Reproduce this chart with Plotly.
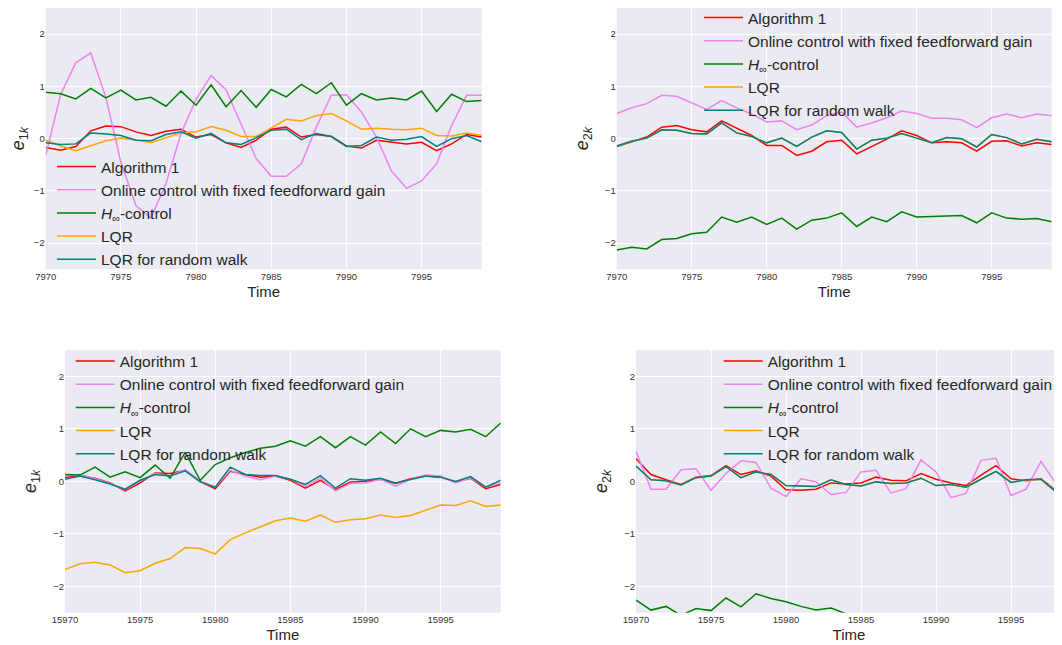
import plotly.graph_objects as go

# ---------------- data ----------------
t_top = list(range(7970, 8000))
t_bot = list(range(15970, 16000))

series_names = ["Algorithm 1", "Online control with fixed feedforward gain",
                "<i>H</i><sub>∞</sub>-control", "LQR", "LQR for random walk"]
series_colors = ["red", "violet", "green", "orange", "teal"]

# panel 1: e1k, t = 7970..7999
p1_alg = [-0.17, -0.22, -0.15, 0.15, 0.24, 0.23, 0.13, 0.06, 0.14, 0.18, 0.03, 0.08, -0.08, -0.17, -0.03,
          0.18, 0.22, 0.03, 0.08, 0.04, -0.14, -0.18, -0.03, -0.06, -0.10, -0.07, -0.23, -0.10, 0.08, 0.03]
p1_onl = [-0.32, 0.85, 1.45, 1.64, 0.79, -0.45, -1.28, -1.52, -0.86, 0.10, 0.75, 1.21, 0.93, 0.29, -0.38,
          -0.72, -0.72, -0.48, 0.22, 0.83, 0.84, 0.51, 0.03, -0.62, -0.95, -0.81, -0.48, 0.25, 0.83, 0.83]
p1_hinf = [0.89, 0.86, 0.76, 0.96, 0.78, 0.93, 0.74, 0.79, 0.62, 0.91, 0.64, 1.03, 0.61, 0.92, 0.60,
           0.94, 0.80, 1.04, 0.86, 1.07, 0.64, 0.86, 0.74, 0.78, 0.74, 0.91, 0.52, 0.85, 0.71, 0.73]
p1_lqr = [-0.03, -0.14, -0.23, -0.13, -0.04, 0.01, -0.02, -0.08, 0.01, 0.11, 0.13, 0.23, 0.16, 0.04, 0.04,
          0.20, 0.37, 0.34, 0.44, 0.48, 0.34, 0.18, 0.20, 0.18, 0.17, 0.20, 0.06, 0.05, 0.11, 0.06]
p1_rw = [-0.08, -0.11, -0.10, 0.11, 0.09, 0.06, -0.03, -0.04, 0.08, 0.13, 0.01, 0.10, -0.08, -0.11, 0.02,
         0.16, 0.18, -0.02, 0.10, 0.04, -0.15, -0.13, 0.03, -0.03, -0.01, 0.04, -0.15, 0.00, 0.06, -0.06]

# panel 2: e2k, t = 7970..7999
p2_alg = [-0.15, -0.06, 0.03, 0.22, 0.25, 0.17, 0.13, 0.34, 0.20, 0.06, -0.13, -0.13, -0.32, -0.24, -0.06,
          -0.03, -0.29, -0.15, -0.01, 0.15, 0.06, -0.08, -0.06, -0.08, -0.24, -0.05, -0.04, -0.14, -0.08, -0.11]
p2_onl = [0.48, 0.59, 0.67, 0.83, 0.81, 0.68, 0.56, 0.73, 0.59, 0.47, 0.32, 0.34, 0.17, 0.26, 0.44,
          0.51, 0.22, 0.30, 0.40, 0.53, 0.48, 0.39, 0.39, 0.36, 0.21, 0.40, 0.47, 0.40, 0.47, 0.44]
p2_hinf = [-2.13, -2.08, -2.11, -1.93, -1.91, -1.82, -1.79, -1.50, -1.60, -1.50, -1.64, -1.52, -1.73, -1.56, -1.52,
           -1.42, -1.68, -1.50, -1.59, -1.40, -1.50, -1.49, -1.47, -1.47, -1.61, -1.42, -1.52, -1.54, -1.53, -1.59]
p2_rw = [-0.14, -0.05, 0.01, 0.17, 0.16, 0.10, 0.09, 0.30, 0.11, 0.04, -0.08, 0.01, -0.15, 0.03, 0.15,
         0.12, -0.20, -0.03, 0.01, 0.10, 0.01, -0.08, 0.02, 0.00, -0.16, 0.08, 0.02, -0.10, -0.01, -0.06]
p2_lqr = list(p2_rw)  # hidden under "LQR for random walk"

# panel 3: e1k, t = 15970..15999
p3_alg = [0.08, 0.10, 0.06, -0.03, -0.18, -0.03, 0.16, 0.15, 0.21, 0.00, -0.14, 0.19, 0.13, 0.08, 0.10,
          0.02, -0.13, 0.02, -0.16, -0.01, 0.00, 0.04, -0.04, 0.05, 0.10, 0.08, -0.01, 0.06, -0.14, -0.06]
p3_onl = [0.10, 0.13, 0.05, -0.04, -0.16, 0.01, 0.15, 0.11, 0.22, 0.01, -0.11, 0.21, 0.10, 0.03, 0.10,
          0.04, -0.10, 0.06, -0.18, -0.04, -0.03, 0.04, -0.09, 0.04, 0.12, 0.10, -0.03, 0.07, -0.11, -0.03]
p3_hinf = [0.13, 0.12, 0.27, 0.08, 0.18, 0.07, 0.31, 0.06, 0.55, 0.02, 0.32, 0.45, 0.55, 0.63, 0.67,
           0.77, 0.67, 0.85, 0.64, 0.85, 0.69, 0.94, 0.72, 1.00, 0.85, 0.97, 0.94, 0.99, 0.85, 1.11]
p3_lqr = [-1.68, -1.57, -1.54, -1.59, -1.74, -1.70, -1.56, -1.47, -1.26, -1.28, -1.38, -1.11, -0.98, -0.87, -0.75,
          -0.70, -0.76, -0.64, -0.78, -0.73, -0.71, -0.64, -0.69, -0.65, -0.55, -0.45, -0.46, -0.37, -0.48, -0.45]
p3_rw = [0.04, 0.10, 0.03, -0.05, -0.15, 0.02, 0.13, 0.10, 0.20, -0.01, -0.11, 0.27, 0.13, 0.11, 0.11,
         0.04, -0.06, 0.11, -0.13, 0.05, 0.02, 0.06, -0.03, 0.04, 0.10, 0.08, 0.00, 0.09, -0.11, 0.02]

# panel 4: e2k, t = 15970..15999
p4_alg = [0.43, 0.13, 0.03, -0.06, 0.08, 0.11, 0.30, 0.13, 0.20, 0.10, -0.16, -0.17, -0.15, -0.03, -0.05,
          -0.03, 0.08, 0.02, 0.01, 0.15, 0.04, -0.03, -0.08, 0.12, 0.30, 0.05, 0.01, 0.05, -0.18, -0.14]
p4_onl = [0.57, -0.15, -0.15, 0.22, 0.24, -0.17, 0.15, 0.39, 0.36, -0.13, -0.29, 0.05, -0.01, -0.25, -0.21,
          0.18, 0.21, -0.22, -0.14, 0.41, 0.18, -0.31, -0.23, 0.40, 0.44, -0.27, -0.15, 0.38, -0.05, -0.30]
p4_hinf = [-2.26, -2.45, -2.38, -2.55, -2.42, -2.46, -2.22, -2.39, -2.14, -2.23, -2.29, -2.38, -2.45, -2.41, -2.52,
           -2.62, -2.70, -2.66, -2.75, -2.68, -2.80, -2.72, -2.85, -2.78, -2.90, -2.82, -2.88, -2.86, -2.95, -2.90]
p4_rw = [0.29, 0.03, 0.01, -0.07, 0.07, 0.10, 0.28, 0.07, 0.18, 0.13, -0.08, -0.09, -0.10, 0.03, -0.06,
         -0.09, -0.01, -0.04, -0.03, 0.06, -0.08, -0.06, -0.11, 0.04, 0.19, -0.02, 0.03, 0.04, -0.20, -0.11]
p4_lqr = list(p4_rw)  # hidden under "LQR for random walk"

y_tickvals = [-2, -1, 0, 1, 2]
y_ticktext = ["−2", "−1", "0", "1", "2"]
x_top_tickvals = [7970, 7975, 7980, 7985, 7990, 7995]
x_bot_tickvals = [15970, 15975, 15980, 15985, 15990, 15995]

panels = [
    dict(t=t_top, series=[p1_alg, p1_onl, p1_hinf, p1_lqr, p1_rw], ytitle="<i>e</i><sub>1<i>k</i></sub>",
         xt=x_top_tickvals, xr=[7970, 7999]),
    dict(t=t_top, series=[p2_alg, p2_onl, p2_hinf, p2_lqr, p2_rw], ytitle="<i>e</i><sub>2<i>k</i></sub>",
         xt=x_top_tickvals, xr=[7970, 7999]),
    dict(t=t_bot, series=[p3_alg, p3_onl, p3_hinf, p3_lqr, p3_rw], ytitle="<i>e</i><sub>1<i>k</i></sub>",
         xt=x_bot_tickvals, xr=[15970, 15999]),
    dict(t=t_bot, series=[p4_alg, p4_onl, p4_hinf, p4_lqr, p4_rw], ytitle="<i>e</i><sub>2<i>k</i></sub>",
         xt=x_bot_tickvals, xr=[15970, 15998.4]),
]

# ---------------- layout geometry (figure pixels; page body adds an 8px offset) ----------------
W, H = 1062, 645
OFF = 8
boxes = [  # left, right, top, bottom in screen px
    (45.7, 481.7, 6.7, 269.3),
    (616.7, 1051.7, 6.7, 269.3),
    (65.0, 500.7, 350.0, 612.7),
    (636.0, 1062.0, 350.0, 612.7),
]
legend_pos = [  # left, top in screen px
    (52, 150),
    (699, 1),
    (70.7, 344.5),
    (718.7, 344.5),
]

FONT = "Liberation Sans, Arial, sans-serif"
fig = go.Figure()
layout = dict(width=W, height=H, margin=dict(l=0, r=0, t=0, b=0, autoexpand=False),
              paper_bgcolor="white", font=dict(family=FONT, color="#262626"))

def fx(px):
    return min(max((px - OFF) / W, 0.0), 1.0)

def fy(py):
    return min(max(1 - (py - OFF) / H, 0.0), 1.0)

for i, p in enumerate(panels):
    k = "" if i == 0 else str(i + 1)
    lg = "legend" if i == 0 else "legend%d" % (i + 1)
    for name, color, vals in zip(series_names, series_colors, p["series"]):
        fig.add_trace(go.Scatter(x=p["t"], y=vals, mode="lines", name=name,
                                 line=dict(color=color, width=1.5),
                                 xaxis="x" + k, yaxis="y" + k, legend=lg))
    l, r, tp, bt = boxes[i]
    layout["xaxis" + k] = dict(
        domain=[fx(l), fx(r)], anchor="y" + k, range=p["xr"], automargin=False,
        tickvals=p["xt"], ticktext=[str(v) for v in p["xt"]],
        showgrid=True, gridcolor="white", gridwidth=1.2, zeroline=False, showline=False,
        ticks="", tickfont=dict(size=9.5, color="#333333"),
        title=dict(text="Time", font=dict(size=15, color="#262626"), standoff=5))
    layout["yaxis" + k] = dict(
        domain=[fy(bt), fy(tp)], anchor="x" + k, range=[-2.5, 2.5], automargin=False,
        tickvals=y_tickvals, ticktext=y_ticktext,
        showgrid=True, gridcolor="white", gridwidth=1.2, zeroline=False, showline=False,
        ticks="", tickfont=dict(size=9.5, color="#333333"),
        title=dict(text=p["ytitle"], font=dict(size=18, color="#262626"), standoff=11))
    lx, ly = legend_pos[i]
    layout[lg] = dict(x=(lx - OFF) / W, y=1 - (ly - OFF) / H, xanchor="left", yanchor="top",
                      bgcolor="rgba(0,0,0,0)", borderwidth=0,
                      font=dict(size=15.5, color="#262626", family=FONT),
                      tracegroupgap=0, itemwidth=39)

layout["plot_bgcolor"] = "#EAEAF2"
fig.update_layout(**layout)
fig.write_html("out.html")
